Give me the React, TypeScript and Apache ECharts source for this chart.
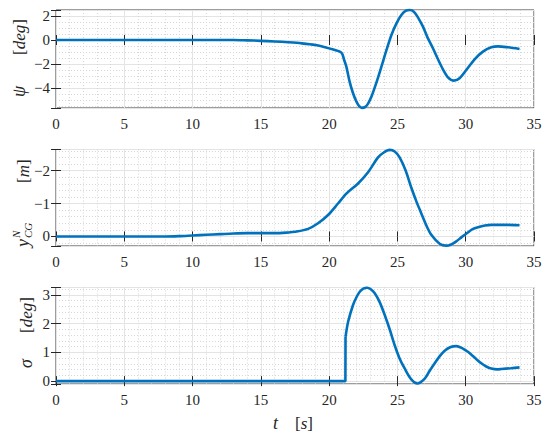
import React, { useEffect, useRef } from "react";
import * as echarts from "echarts";

// time stamps and values
const tPsi = [0, 5, 10, 13, 14, 15, 16, 17, 18, 19, 19.7, 20.3, 20.9, 21.1, 21.26, 21.5, 21.75, 22.0, 22.2, 22.41, 22.62, 22.85, 23.1, 23.46, 23.83, 24.2, 24.56, 24.93, 25.29, 25.6, 25.9, 26.2, 26.5, 26.87, 27.2, 27.6, 27.97, 28.33, 28.7, 29.14, 29.55, 30.04, 30.65, 31.26, 31.87, 32.36, 33.1, 33.94];
const psi = [0, 0, 0, 0, -0.03, -0.07, -0.12, -0.19, -0.28, -0.42, -0.6, -0.8, -1.05, -1.67, -2.22, -3.47, -4.44, -5.14, -5.52, -5.66, -5.6, -5.3, -4.72, -3.56, -2.22, -0.83, 0.42, 1.39, 2.08, 2.42, 2.5, 2.36, 1.89, 1.11, 0.22, -0.69, -1.61, -2.44, -3.11, -3.39, -3.19, -2.5, -1.61, -0.97, -0.61, -0.53, -0.61, -0.75];

const tY = [0, 5, 8, 9, 10, 11, 12, 13, 14, 15, 16, 17, 17.5, 18.46, 19.19, 19.92, 20.65, 21.26, 22.1, 22.85, 23.58, 24.0, 24.43, 24.8, 25.16, 25.6, 26.0, 26.4, 26.75, 27.1, 27.48, 28.09, 28.58, 28.9, 29.31, 29.7, 30.16, 30.5, 30.9, 31.4, 31.87, 33.1, 33.94];
const yCG = [0, 0, 0, -0.01, -0.03, -0.05, -0.07, -0.09, -0.1, -0.1, -0.1, -0.12, -0.14, -0.23, -0.4, -0.65, -1.0, -1.3, -1.6, -1.95, -2.4, -2.55, -2.63, -2.58, -2.4, -2.0, -1.5, -1.05, -0.7, -0.35, -0.05, 0.22, 0.28, 0.25, 0.15, 0.02, -0.12, -0.22, -0.28, -0.33, -0.35, -0.35, -0.34];

const tSig = [0, 5, 10, 15, 20, 21.19, 21.2, 21.39, 21.75, 22.0, 22.24, 22.5, 22.78, 23.05, 23.34, 23.7, 24.07, 24.45, 24.8, 25.15, 25.53, 26.0, 26.46, 27.0, 27.35, 27.73, 28.1, 28.46, 28.9, 29.31, 29.7, 30.16, 30.65, 31.14, 31.5, 31.87, 32.3, 32.6, 33.3, 33.94];
const sigma = [0, 0, 0, 0, 0, 0, 1.54, 2.07, 2.65, 2.92, 3.11, 3.22, 3.25, 3.2, 3.06, 2.75, 2.3, 1.78, 1.25, 0.8, 0.44, 0.07, -0.08, 0.09, 0.35, 0.62, 0.87, 1.06, 1.19, 1.22, 1.16, 1.02, 0.82, 0.62, 0.51, 0.44, 0.41, 0.42, 0.45, 0.48];
const sigmaJumpIndex = 6; // first sample after the step at t ≈ 21.2 s

const xTicks = { min: 0, max: 35, step: 5, minor: 5 };
const yRanges = [
  { min: -5.67, max: 2.5, step: 2, split: 4, minor: 4, inverse: false },
  { min: -2.64, max: 0.29, step: 1, split: 3, minor: 5, inverse: true },
  { min: -0.1, max: 3.26, step: 1, split: 3, minor: 5, inverse: false },
];

const BLUE = "#0072BD";
const AX = "#262626";
const FONT = "'Liberation Serif', 'DejaVu Serif', serif";

function fmt(step: number) {
  return (v: number) => {
    const k = v / step;
    if (Math.abs(k - Math.round(k)) > 1e-6) return "";
    const r = Math.round(k) * step;
    return r < 0 ? "\u2212" + String(-r) : String(r);
  };
}

export default function App() {
  const ref = useRef<HTMLDivElement>(null);
  useEffect(() => {
    if (!ref.current) return;
    const chart = echarts.init(ref.current, undefined, { renderer: "svg" });
    const tops = [10, 149.5, 287.5];
    const heights = [98, 96.5, 96.5];
    const grids = tops.map((t, i) => ({
      left: 56,
      right: 16,
      top: t,
      height: heights[i],
      show: true,
      borderColor: "#3a3a3a",
      borderWidth: 1,
      backgroundColor: "#fff",
    }));
    const xAxes: any[] = [];
    const yAxes: any[] = [];
    for (let i = 0; i < 3; i++) {
      xAxes.push({
        type: "value",
        gridIndex: i,
        min: xTicks.min,
        max: xTicks.max,
        interval: xTicks.step,
        position: "bottom",
        axisLine: { show: false },
        axisTick: { show: true, inside: true, length: 5, lineStyle: { color: AX } },
        axisLabel: { color: AX, fontFamily: FONT, fontSize: 15, margin: 8, formatter: fmt(xTicks.step) },
        splitLine: { show: true, lineStyle: { color: "#e4e4e4", width: 1 } },
        minorTick: { show: false, splitNumber: xTicks.minor },
        minorSplitLine: { show: true, lineStyle: { color: "#d6d6d6", width: 1, type: [1, 2] } },
      });
      xAxes.push({
        type: "value",
        gridIndex: i,
        min: xTicks.min,
        max: xTicks.max,
        interval: xTicks.step,
        position: "top",
        axisLine: { show: false },
        axisTick: { show: true, inside: true, length: 5, lineStyle: { color: AX } },
        axisLabel: { show: false },
        splitLine: { show: false },
      });
      const r = yRanges[i];
      yAxes.push({
        type: "value",
        gridIndex: i,
        min: r.min,
        max: r.max,
        splitNumber: r.split,
        inverse: r.inverse,
        position: "left",
        axisLine: { show: false },
        axisTick: { show: true, inside: true, length: 5, lineStyle: { color: AX } },
        axisLabel: { color: AX, fontFamily: FONT, fontSize: 15, margin: 6, formatter: fmt(r.step) },
        splitLine: { show: true, lineStyle: { color: "#e4e4e4", width: 1 } },
        minorTick: { show: false, splitNumber: r.minor },
        minorSplitLine: { show: true, lineStyle: { color: "#d6d6d6", width: 1, type: [1, 2] } },
      });
      yAxes.push({
        type: "value",
        gridIndex: i,
        min: r.min,
        max: r.max,
        splitNumber: r.split,
        inverse: r.inverse,
        position: "right",
        axisLine: { show: false },
        axisTick: { show: true, inside: true, length: 5, lineStyle: { color: AX } },
        axisLabel: { show: false },
        splitLine: { show: false },
      });
    }
    const mk = (ts: number[], vs: number[], i: number, smooth: number) => ({
      type: "line",
      xAxisIndex: i * 2,
      yAxisIndex: i * 2,
      data: ts.map((t, k) => [t, vs[k]]),
      showSymbol: false,
      smooth,
      lineStyle: { color: BLUE, width: 2.6 },
      itemStyle: { color: BLUE },
      clip: false,
      z: 5,
    });
    const ylabel = (x: number, y: number, children: any[]) => ({
      type: "group",
      x,
      y,
      rotation: Math.PI / 2,
      children,
    });
    const txt = (x: number, y: number, text: string, size: number, it: boolean) => ({
      type: "text",
      x,
      y,
      style: {
        text,
        fontSize: size,
        fontFamily: FONT,
        fontStyle: it ? "italic" : "normal",
        fill: AX,
        align: "left",
        verticalAlign: "middle",
      },
    });
    const unit = (x: number, y: number, u: string) => ({
      type: "text",
      x,
      y,
      style: {
        text: "{b|[}{i|" + u + "}{b|]}",
        align: "left",
        verticalAlign: "middle",
        rich: {
          b: { fontSize: 17, fontFamily: FONT, fill: AX },
          i: { fontSize: 17, fontFamily: FONT, fontStyle: "italic", fill: AX },
        },
      },
    });
    chart.setOption({
      animation: false,
      backgroundColor: "#fff",
      grid: grids,
      xAxis: xAxes,
      yAxis: yAxes,
      series: [
        mk(tPsi, psi, 0, 0.3),
        mk(tY, yCG, 1, 0.3),
        mk(tSig.slice(0, sigmaJumpIndex + 1), sigma.slice(0, sigmaJumpIndex + 1), 2, 0),
        mk(tSig.slice(sigmaJumpIndex), sigma.slice(sigmaJumpIndex), 2, 0.3),
      ],
      graphic: [
        ylabel(19, 97, [txt(0, 0, "ψ", 18, true), unit(42, 0, "deg")]),
        ylabel(23, 247, [
          txt(0, 0, "y", 18, true),
          txt(9, -7, "N", 11, true),
          txt(9, 5, "CG", 11, true),
          unit(64, 0, "m"),
        ]),
        ylabel(26, 368, [txt(0, 0, "σ", 18, true), unit(35, 0, "deg")]),
        txt(273, 423, "t", 18, true),
        unit(295, 423, "s"),
      ],
    });
    return () => chart.dispose();
  }, []);
  return <div ref={ref} style={{ width: 550, height: 439, position: "absolute", left: 0, top: 0 }} />;
}
